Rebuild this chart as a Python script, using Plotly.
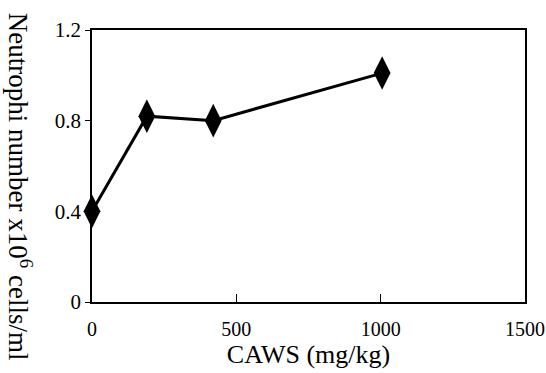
import plotly.graph_objects as go

doses = [0, 190, 420, 1005]
neutrophils = [0.40, 0.82, 0.80, 1.01]
x_ticks = [0, 500, 1000, 1500]
y_ticks = [0, 0.4, 0.8, 1.2]
y_tick_text = ["0", "0.4", "0.8", "1.2"]

FONT = "Liberation Serif, Times New Roman, serif"

fig = go.Figure()
fig.add_trace(go.Scatter(
    x=doses, y=neutrophils, mode="lines+markers",
    line=dict(color="black", width=3),
    marker=dict(symbol="diamond-tall", size=24, color="black"),
    cliponaxis=False, showlegend=False,
))

fig.update_layout(
    width=546, height=373,
    margin=dict(l=92, r=21, t=30, b=71),
    paper_bgcolor="white", plot_bgcolor="white",
    font=dict(family=FONT, color="black", size=20),
    xaxis=dict(
        range=[0, 1500], tickvals=x_ticks, ticktext=[str(v) for v in x_ticks],
        ticks="inside", ticklen=8, tickwidth=1.2, tickcolor="black",
        showline=True, linecolor="black", linewidth=1.5, mirror=True,
        showgrid=False, zeroline=False, automargin=False,
        ticklabelstandoff=8,
        tickfont=dict(family=FONT, size=20),
        title=dict(text="CAWS (mg/kg)", font=dict(family=FONT, size=26), standoff=6),
    ),
    yaxis=dict(
        range=[0, 1.2], tickvals=y_ticks, ticktext=y_tick_text,
        ticks="outside", ticklen=5, tickwidth=1.2, tickcolor="black",
        showline=True, linecolor="black", linewidth=1.5, mirror=True,
        showgrid=False, zeroline=False, automargin=False,
        tickfont=dict(family=FONT, size=21),
    ),
    annotations=[dict(
        text="Neutrophi number x10<sup>6</sup> cells/ml",
        xref="paper", yref="paper", x=-0.166, y=0.423,
        xanchor="center", yanchor="middle", textangle=90, showarrow=False,
        font=dict(family=FONT, size=27, color="black"),
    )],
)

fig.write_html("out.html", config={"displayModeBar": False},
               post_script="document.body.style.margin='0';")
